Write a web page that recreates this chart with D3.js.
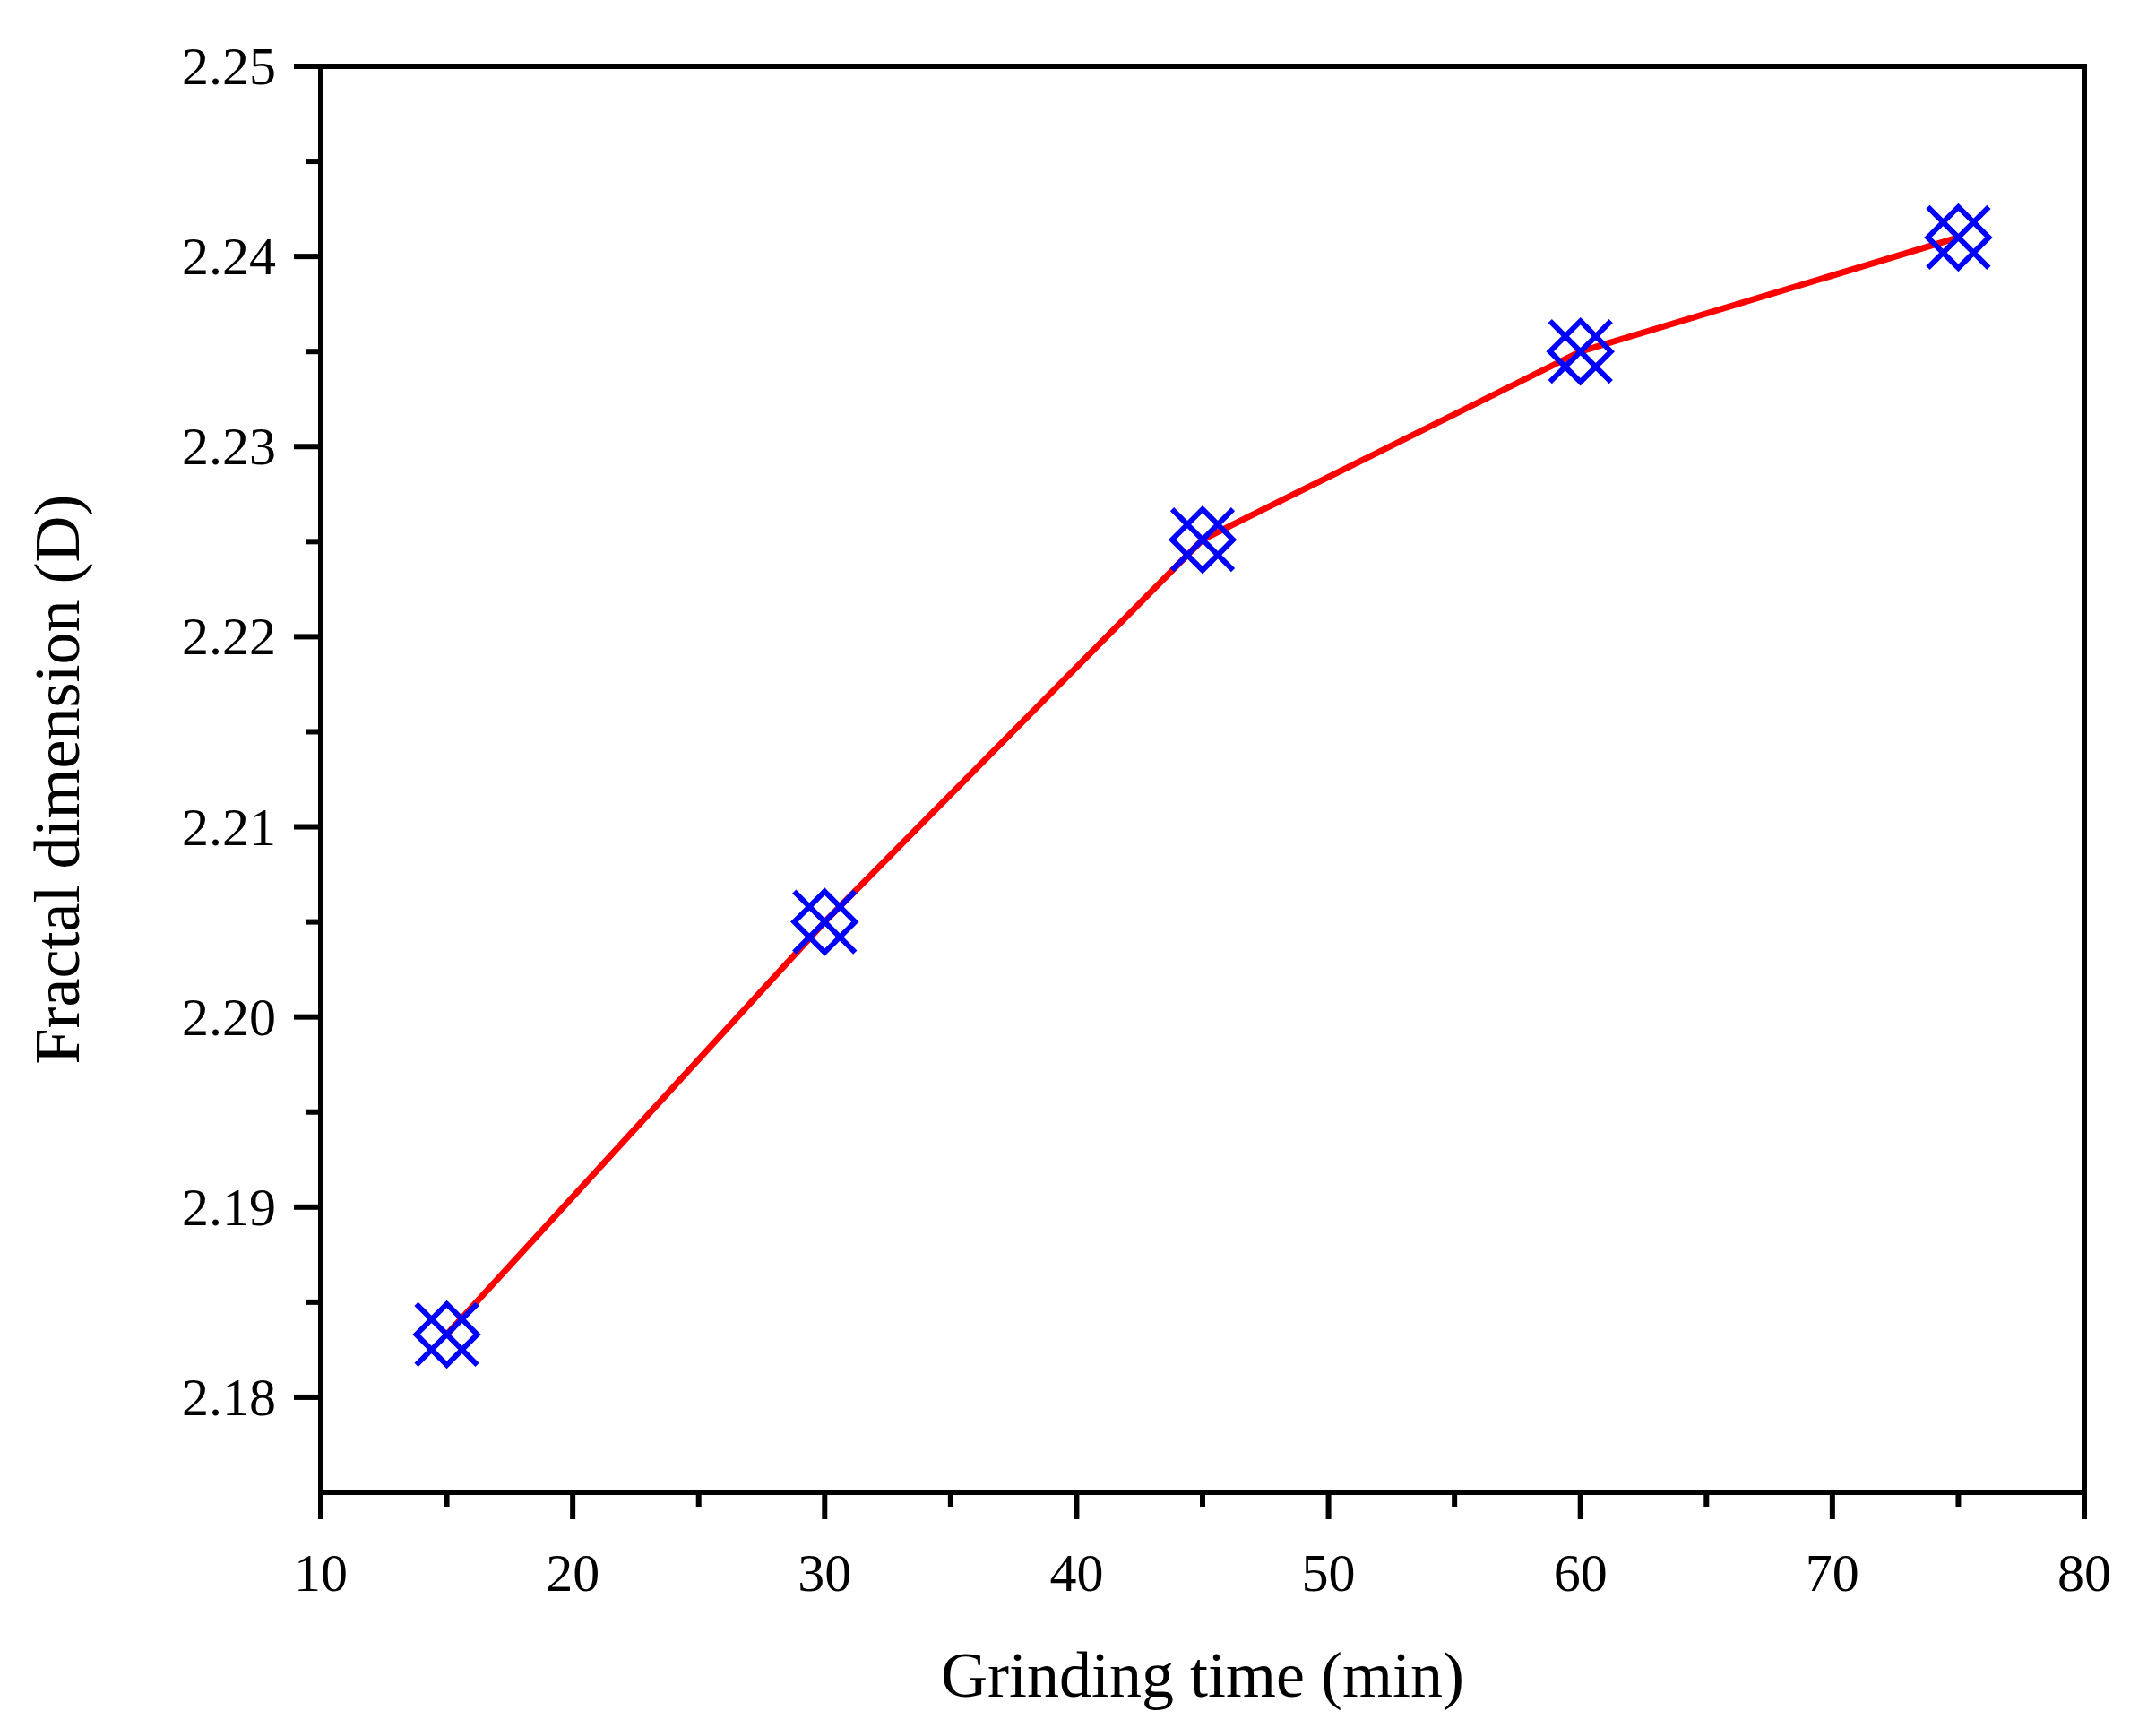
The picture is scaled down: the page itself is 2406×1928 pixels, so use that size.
<!DOCTYPE html><html><head><meta charset="utf-8"><script src="https://d3js.org/d3.v7.min.js"></script>
<style>body{margin:0;background:#fff}</style></head><body><svg id="c" width="2406" height="1928"></svg>
<script>
const times=[15,30,45,60,75];
const fractalD=[2.1833,2.2050,2.2251,2.2350,2.2410];
const xTicks=[10,20,30,40,50,60,70,80];
const yTicks=[2.18,2.19,2.20,2.21,2.22,2.23,2.24,2.25];
const svg=d3.select("#c");
const L=358,R=2326,T=74,B=1665;
const x=d3.scaleLinear().domain([10,80]).range([L,R]);
const y=d3.scaleLinear().domain([2.175,2.25]).range([B,T]);
const font="Liberation Serif, Times New Roman, serif";
const g=svg.append("g");
// minor ticks
const xm=d3.range(15,80,10), ym=d3.range(2.175,2.25,0.01).map(v=>+v.toFixed(3)).concat(d3.range(2.185,2.25,0.01).map(v=>+v.toFixed(3)));
g.selectAll(".xM").data(xTicks).join("line").attr("x1",d=>x(d)).attr("x2",d=>x(d)).attr("y1",B).attr("y2",B+30).attr("stroke","#000").attr("stroke-width",6);
g.selectAll(".xm").data(xm).join("line").attr("x1",d=>x(d)).attr("x2",d=>x(d)).attr("y1",B).attr("y2",B+16).attr("stroke","#000").attr("stroke-width",6);
g.selectAll(".yM").data(yTicks).join("line").attr("y1",d=>y(d)).attr("y2",d=>y(d)).attr("x1",L).attr("x2",L-30).attr("stroke","#000").attr("stroke-width",6);
g.selectAll(".ym").data(d3.range(2.175,2.25,0.01).map(v=>+v.toFixed(3)).filter(v=>v>2.176)).join("line").attr("y1",d=>y(d)).attr("y2",d=>y(d)).attr("x1",L).attr("x2",L-16).attr("stroke","#000").attr("stroke-width",6);
g.selectAll(".xl").data(xTicks).join("text").attr("x",d=>x(d)).attr("y",1775).attr("text-anchor","middle").attr("font-family",font).attr("font-size",60).text(d=>d);
g.selectAll(".yl").data(yTicks).join("text").attr("x",308).attr("y",d=>y(d)+20).attr("text-anchor","end").attr("font-family",font).attr("font-size",60).text(d=>d.toFixed(2));
g.append("rect").attr("x",L).attr("y",T).attr("width",R-L).attr("height",B-T).attr("fill","none").attr("stroke","#000").attr("stroke-width",6);
g.append("text").attr("x",(L+R)/2).attr("y",1893).attr("text-anchor","middle").attr("font-family",font).attr("font-size",72).text("Grinding time (min)");
g.append("text").attr("transform",`translate(88,${(T+B)/2}) rotate(-90)`).attr("text-anchor","middle").attr("font-family",font).attr("font-size",72).text("Fractal dimension (D)");
const pts=times.map((t,i)=>[x(t),y(fractalD[i])]);
g.append("path").attr("d",d3.line()(pts)).attr("fill","none").attr("stroke","#ff0000").attr("stroke-width",7);
const s=34;
pts.forEach(([px,py])=>{
 g.append("path").attr("d",`M${px-s},${py-s}L${px+s},${py+s}M${px-s},${py+s}L${px+s},${py-s}M${px},${py-s}L${px+s},${py}L${px},${py+s}L${px-s},${py}Z`).attr("fill","none").attr("stroke","#0000ff").attr("stroke-width",6);
});
</script></body></html>
